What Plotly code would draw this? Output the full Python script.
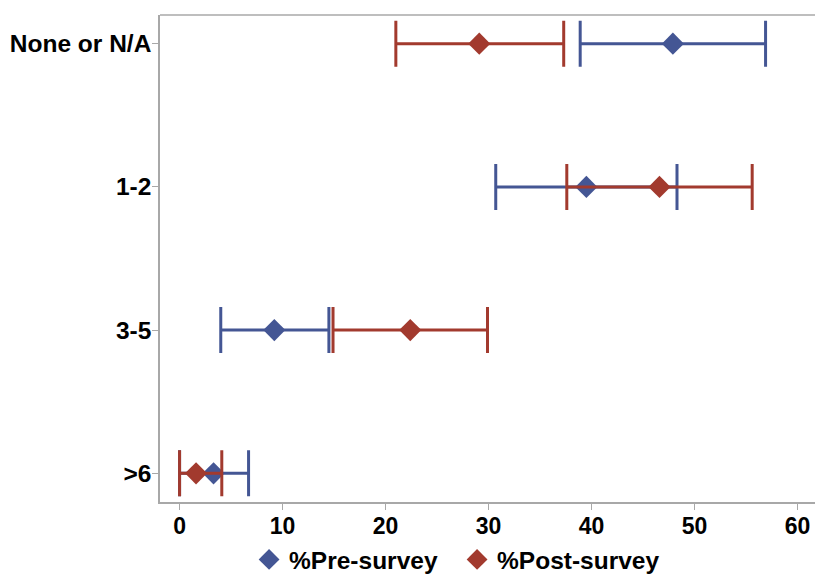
import plotly.graph_objects as go

categories = ["None or N/A", "1-2", "3-5", ">6"]

pre_mean = [47.9, 39.5, 9.2, 3.3]
pre_low = [38.9, 30.7, 4.0, 0.0]
pre_high = [56.9, 48.3, 14.5, 6.7]

post_mean = [29.1, 46.6, 22.4, 1.6]
post_low = [21.0, 37.6, 14.9, 0.0]
post_high = [37.3, 55.6, 29.9, 4.1]

x_ticks = [0, 10, 20, 30, 40, 50, 60]

BLUE = "#445694"
RED = "#A23A2E"
AXIS = "#A8A8A8"
FONT = "Liberation Sans, Arial, sans-serif"

def trace(name, mean, low, high, color):
    return go.Scatter(
        x=mean, y=categories, name=name, mode="markers",
        marker=dict(symbol="diamond", size=17, color=color),
        error_x=dict(type="data", symmetric=False,
                     array=[h - m for h, m in zip(high, mean)],
                     arrayminus=[m - l for m, l in zip(mean, low)],
                     color=color, thickness=3, width=23),
    )

fig = go.Figure()
fig.add_trace(trace("%Pre-survey", pre_mean, pre_low, pre_high, BLUE))
fig.add_trace(trace("%Post-survey", post_mean, post_low, post_high, RED))

fig.update_layout(
    width=815, height=574,
    margin=dict(l=160, r=0, t=15, b=72, autoexpand=False),
    plot_bgcolor="white", paper_bgcolor="white",
    font=dict(family=FONT, color="black"),
    showlegend=True,
    legend=dict(orientation="h", x=0.136, xanchor="left", y=-0.118, yanchor="middle",
                font=dict(family=FONT, size=24.5, weight="bold", color="black"),
                entrywidth=163, entrywidthmode="pixels", itemclick=False),
    xaxis=dict(range=[-1.9, 61.7], tickvals=x_ticks, showgrid=False, zeroline=False,
               showline=True, linecolor=AXIS, linewidth=1.5, mirror=False,
               ticks="outside", ticklen=6, tickcolor=AXIS, automargin=False,
               ticklabelstandoff=-3,
               tickfont=dict(family=FONT, size=23, weight="bold", color="black")),
    yaxis=dict(type="category", categoryorder="array", categoryarray=categories,
               range=[3.2, -0.2], showgrid=False, zeroline=False,
               showline=True, linecolor=AXIS, linewidth=1.5, automargin=False,
               ticks="outside", ticklen=6, tickcolor=AXIS, ticklabelstandoff=-4,
               tickfont=dict(family=FONT, size=24.5, weight="bold", color="black")),
    shapes=[dict(type="line", xref="paper", yref="paper", x0=0, x1=1, y0=1, y1=1,
                 line=dict(color=AXIS, width=1.5))],
)

fig.write_html("out.html", config={"displayModeBar": False},
               post_script="document.body.style.margin='0';document.body.style.overflow='hidden';")
